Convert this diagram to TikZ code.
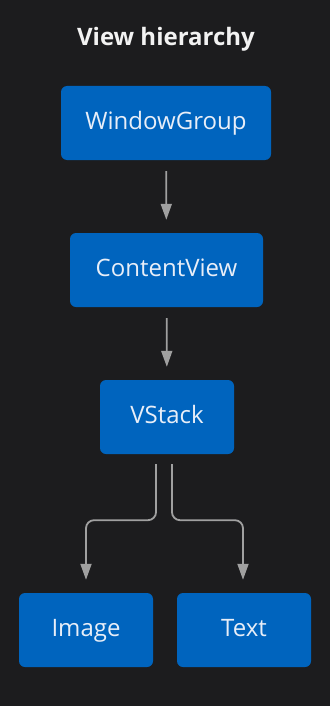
\documentclass[tikz,border=0pt]{standalone}
\usepackage{fontspec}
\setmainfont{Open Sans}
\usetikzlibrary{arrows.meta,positioning}
\definecolor{vhBack}{HTML}{1c1c1e}
\definecolor{vhBlue}{HTML}{0064be}
\definecolor{vhLine}{HTML}{a0a0a0}
\definecolor{vhText}{HTML}{e8eef8}
\definecolor{vhTitle}{HTML}{f2f2f2}
\tikzset{
  >={Triangle[length=16pt,width=11pt]},
  view/.style={rounded corners=6pt, fill=vhBlue, text=vhText,
              minimum height=74pt, inner sep=0pt, text height=17pt, text depth=5pt,
              font=\fontsize{24}{28}\selectfont},
  ttl/.style={text=vhTitle, font=\bfseries\fontsize{24}{28}\selectfont},
  flow/.style={->, draw=vhLine, line width=1.8pt,
              shorten <=11pt, shorten >=13pt},
  branch/.style={flow, rounded corners=8pt, shorten <=10pt},
}

\begin{document}
\begin{tikzpicture}[x=1pt,y=-1pt]
  \fill[vhBack] (0,0) rectangle (330,706);
  \useasboundingbox (0,0) rectangle (330,706);
  \node[ttl] (title) at (166,39) {View hierarchy};
  % view nodes
  \node[view,minimum width=210pt] (wg) at (166,123) {WindowGroup};
  \node[view,minimum width=193pt] (cv) at (166.5,270) {ContentView};
  \node[view,minimum width=134pt] (vs) at (167,417) {VStack};
  \node[view,minimum width=134pt] (img) at (86,630) {Image};
  \node[view,minimum width=134pt] (txt) at (244,630) {Text};
  % connectors
  \draw[flow] (wg) -- (cv);
  \draw[flow] (cv) -- (vs);
  \draw[branch] ([xshift=-11pt]vs.south) -- ++(0,66) -| (img.north);
  \draw[branch] ([xshift=5pt]vs.south) -- ++(0,66) -| ([xshift=-1pt]txt.north);
\end{tikzpicture}
\end{document}
